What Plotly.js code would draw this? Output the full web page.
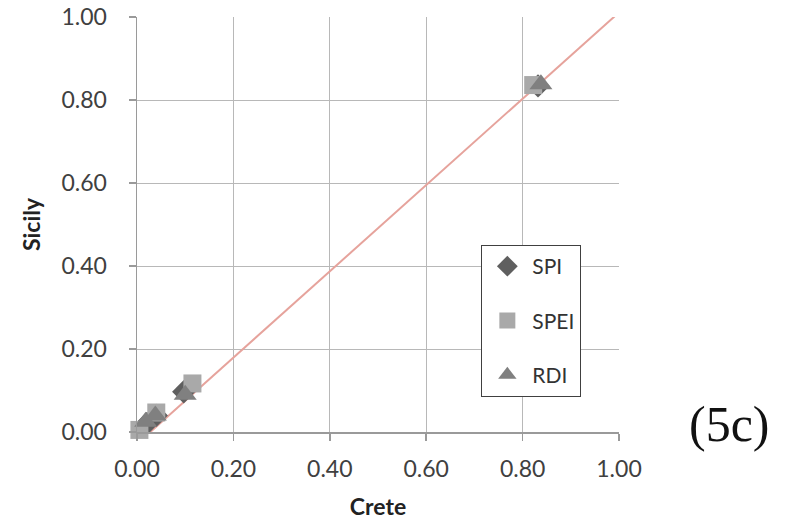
<!DOCTYPE html>
<html>
<head>
<meta charset="utf-8">
<script src="https://cdn.plot.ly/plotly-3.0.1.min.js"></script>
<style>html,body{margin:0;padding:0;background:#fff;}#chart{width:791px;height:520px;}</style>
</head>
<body>
<div id="chart"></div>
<script>
// Data (Crete vs Sicily)
const spiCrete  = [0.02, 0.04, 0.097, 0.832];
const spiSicily = [0.02, 0.04, 0.097, 0.834];
const speiCrete  = [0.005, 0.04, 0.115, 0.822];
const speiSicily = [0.005, 0.047, 0.117, 0.836];
const rdiCrete  = [0.018, 0.038, 0.10, 0.838];
const rdiSicily = [0.025, 0.04, 0.09, 0.838];
const lineCrete  = [0.02, 1.0];
const lineSicily = [-0.008, 1.011];
const tickVals = [0, 0.2, 0.4, 0.6, 0.8, 1.0];
const tickText = ["0.00", "0.20", "0.40", "0.60", "0.80", "1.00"];

const traces = [
  {x: lineCrete, y: lineSicily, mode: 'lines', line: {color: '#e6a39c', width: 2}, showlegend: false, hoverinfo: 'skip'},
  {x: spiCrete, y: spiSicily, mode: 'markers', name: 'SPI', legendgroup: 'a',
   marker: {symbol: 'diamond', size: 18, color: '#5f5f5f'}, cliponaxis: false},
  {x: speiCrete, y: speiSicily, mode: 'markers', name: 'SPEI', legendgroup: 'b',
   marker: {symbol: 'square', size: 18, color: '#a9a9a9'}, cliponaxis: false},
  {x: rdiCrete, y: rdiSicily, mode: 'markers', name: 'RDI', legendgroup: 'c',
   marker: {symbol: 'triangle-up', size: 20, color: '#808080'}, cliponaxis: false}
];

const axisCommon = {
  range: [0, 1], tickvals: tickVals, ticktext: tickText,
  showgrid: true, gridcolor: '#b8b8b8', gridwidth: 1,
  showline: true, linecolor: '#9a9a9a', linewidth: 1.5,
  ticks: 'outside', ticklen: 7, tickcolor: '#9a9a9a', tickwidth: 1.5,
  zeroline: false, fixedrange: true,
  tickfont: {family: 'Lato, "Open Sans", sans-serif', size: 23, color: '#404040'}
};

const layout = {
  width: 791, height: 520,
  margin: {l: 137, r: 172, t: 17, b: 88},
  paper_bgcolor: '#ffffff', plot_bgcolor: '#ffffff',
  xaxis: Object.assign({}, axisCommon, {
    title: {text: 'Crete', font: {family: 'Lato, sans-serif', size: 23, color: '#222', weight: 'bold'}, standoff: 18},
    ticklabelstandoff: 9
  }),
  yaxis: Object.assign({}, axisCommon, {
    title: {text: 'Sicily', font: {family: 'Lato, sans-serif', size: 23, color: '#222', weight: 'bold'}, standoff: 14},
    ticklabelstandoff: 17
  }),
  showlegend: true,
  legend: {
    x: 0.714, y: 0.451, xanchor: 'left', yanchor: 'top',
    bordercolor: '#404040', borderwidth: 1.2, bgcolor: '#ffffff',
    font: {family: 'Lato, sans-serif', size: 21, color: '#333'},
    traceorder: 'grouped', tracegroupgap: 24, itemsizing: 'trace',
    itemwidth: 40, entrywidth: 112, entrywidthmode: 'pixels'
  },
  annotations: [{
    xref: 'paper', yref: 'paper', x: 1.23, y: 0.02, xanchor: 'center', yanchor: 'middle',
    text: '(5c)', showarrow: false,
    font: {family: '"Liberation Serif", "DejaVu Serif", serif', size: 50, color: '#111'}
  }]
};

Plotly.newPlot('chart', traces, layout, {displayModeBar: false, staticPlot: true});
</script>
</body>
</html>
